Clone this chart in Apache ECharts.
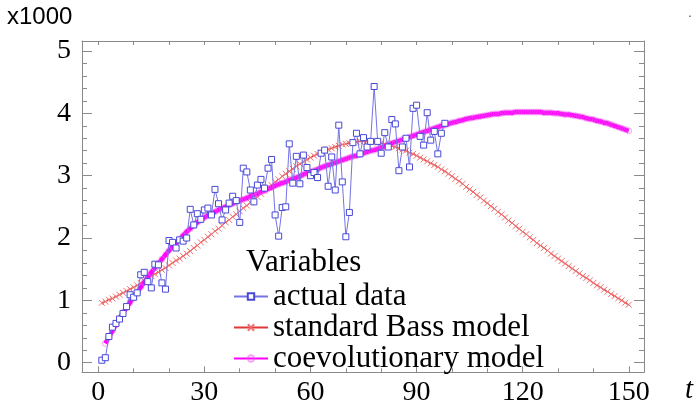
<!DOCTYPE html>
<html>
<head>
<meta charset="utf-8">
<script src="https://cdn.jsdelivr.net/npm/echarts@6/dist/echarts.min.js"></script>
<style>html,body{margin:0;padding:0;background:#fff}#c{width:700px;height:407px}</style>
</head>
<body>
<div id="c"></div>
<script>
// axis ticks / labels
var xMajor = [0, 30, 60, 90, 120, 150];
var xMinor = [0, 10, 20, 30, 40, 50, 60, 70, 80, 90, 100, 110, 120, 130, 140, 150];
var yMajor = [0, 1, 2, 3, 4, 5];
var yMinor = [0, 0.2, 0.4, 0.6, 0.8, 1, 1.2, 1.4, 1.6, 1.8, 2, 2.2, 2.4, 2.6, 2.8, 3,
              3.2, 3.4, 3.6, 3.8, 4, 4.2, 4.4, 4.6, 4.8, 5];
var xRange = [-4.6, 154.3];
var yRange = [-0.154, 5.16];

// actual data, t = 1..98 (x1000)
var actualStart = 1;
var actualData = [
0.04,0.08,0.42,0.57,0.63,0.70,0.79,0.90,1.09,1.05,
1.12,1.41,1.45,1.30,1.20,1.58,1.57,1.28,1.18,1.96,
1.93,1.84,1.97,1.95,2.00,2.46,2.21,2.39,2.30,2.45,
2.48,2.37,2.78,2.55,2.29,2.45,2.56,2.67,2.60,2.25,
3.12,3.06,2.77,2.58,2.85,2.94,2.80,3.12,3.26,2.37,
2.03,2.49,2.50,3.51,2.88,3.31,2.87,3.33,3.13,3.00,
3.05,2.97,3.36,3.41,2.83,3.30,2.77,3.81,2.90,2.02,
2.41,3.53,3.68,3.35,3.61,3.46,3.55,4.43,3.55,3.36,
3.69,3.46,3.90,3.83,3.08,3.46,3.60,3.14,4.08,4.13,
3.63,3.49,4.01,3.57,3.71,3.35,3.68,3.84
];

// standard Bass model, t = 1..150
var bassStart = 1;
var bassData = [
0.96,0.98,1.01,1.03,1.06,1.09,1.12,1.15,1.18,1.21,
1.24,1.28,1.31,1.35,1.39,1.42,1.45,1.49,1.52,1.56,
1.60,1.64,1.67,1.71,1.75,1.79,1.84,1.88,1.93,1.97,
2.02,2.06,2.11,2.15,2.20,2.25,2.29,2.34,2.38,2.43,
2.48,2.52,2.57,2.61,2.66,2.71,2.76,2.81,2.85,2.90,
2.94,2.99,3.03,3.07,3.11,3.15,3.19,3.22,3.26,3.29,
3.32,3.35,3.37,3.40,3.42,3.44,3.46,3.48,3.50,3.51,
3.52,3.53,3.54,3.55,3.55,3.55,3.54,3.54,3.53,3.52,
3.51,3.49,3.48,3.46,3.44,3.42,3.40,3.37,3.35,3.32,
3.29,3.26,3.23,3.20,3.17,3.14,3.10,3.07,3.03,2.99,
2.95,2.91,2.87,2.82,2.78,2.74,2.69,2.65,2.60,2.56,
2.51,2.47,2.42,2.38,2.33,2.28,2.24,2.19,2.15,2.10,
2.06,2.01,1.97,1.92,1.88,1.84,1.80,1.75,1.71,1.67,
1.63,1.59,1.55,1.51,1.47,1.43,1.39,1.36,1.32,1.28,
1.24,1.21,1.17,1.14,1.10,1.07,1.03,1.00,0.96,0.93
];

// coevolutionary model, t = 2..150
var coevoStart = 2;
var coevoData = [
0.31,0.41,0.51,0.61,0.71,0.80,0.88,0.97,1.05,
1.13,1.21,1.29,1.37,1.45,1.52,1.59,1.66,1.73,1.80,
1.86,1.92,1.98,2.04,2.10,2.15,2.20,2.25,2.29,2.33,
2.36,2.39,2.42,2.45,2.48,2.50,2.53,2.55,2.58,2.60,
2.62,2.64,2.67,2.69,2.71,2.74,2.76,2.79,2.81,2.84,
2.86,2.88,2.90,2.93,2.95,2.97,2.99,3.02,3.04,3.06,
3.08,3.10,3.13,3.15,3.17,3.19,3.21,3.23,3.25,3.27,
3.29,3.31,3.32,3.34,3.36,3.38,3.40,3.41,3.43,3.45,
3.47,3.49,3.52,3.54,3.56,3.58,3.60,3.62,3.64,3.66,
3.68,3.70,3.72,3.74,3.76,3.78,3.80,3.81,3.83,3.85,
3.86,3.88,3.89,3.91,3.92,3.93,3.94,3.95,3.96,3.97,
3.98,3.99,3.99,4.00,4.01,4.01,4.01,4.02,4.02,4.02,
4.02,4.02,4.02,4.02,4.02,4.01,4.01,4.01,4.00,4.00,
3.99,3.98,3.98,3.97,3.96,3.95,3.94,3.92,3.91,3.90,
3.88,3.87,3.85,3.84,3.82,3.80,3.78,3.76,3.74,3.72
];

var seriesNames = ['actual data', 'standard Bass model', 'coevolutionary model'];

function pairs(start, arr) { return arr.map(function (v, i) { return [start + i, v]; }); }

var SERIF = 'Liberation Serif';
var FRAME = '#8a8a8a';

var chart = echarts.init(document.getElementById('c'), null, {renderer: 'canvas'});

function axisDef(kind, pos, range, lineShow, ticks, tickLen, labels) {
  var a = {
    type: 'value', position: pos,
    min: range[0], max: range[1],
    axisLine: {show: lineShow, onZero: false, lineStyle: {color: FRAME, width: 1}},
    axisTick: {show: true, inside: true, length: tickLen, customValues: ticks,
               lineStyle: {color: FRAME, width: 1}},
    splitLine: {show: false},
    axisLabel: {show: !!labels, fontFamily: SERIF, fontSize: 28, color: '#000',
                margin: kind === 'x' ? 6 : 11}
  };
  if (labels) a.axisLabel.customValues = labels;
  return a;
}

var option = {
  backgroundColor: '#fff',
  animation: false,
  grid: {left: 82, right: 56, top: 41, bottom: 34.7, containLabel: false},
  xAxis: [
    axisDef('x', 'bottom', xRange, true, xMajor, 6, xMajor),
    axisDef('x', 'bottom', xRange, false, xMinor, 4, null),
    axisDef('x', 'top', xRange, true, xMinor, 4, null)
  ],
  yAxis: [
    axisDef('y', 'left', yRange, true, yMajor, 10, yMajor),
    axisDef('y', 'left', yRange, false, yMinor, 5, null),
    axisDef('y', 'right', yRange, true, yMajor, 10, null),
    axisDef('y', 'right', yRange, false, yMinor, 5, null)
  ],
  legend: {
    orient: 'vertical', left: 228, top: 276,
    itemWidth: 34, itemHeight: 8, itemGap: 0,
    data: seriesNames,
    textStyle: {fontFamily: SERIF, fontSize: 31, color: '#000', lineHeight: 30}
  },
  graphic: [
    {type: 'text', left: 7, top: 5, style: {text: 'x1000', font: '24px "Liberation Sans"', fill: '#000'}},
    {type: 'text', left: 685, top: 376, style: {text: 't', font: 'italic 29px "Liberation Serif"', fill: '#000'}},
    {type: 'text', left: 246, top: 247, style: {text: 'Variables', font: '31px "Liberation Serif"', fill: '#000'}},
    {type: 'text', left: 688, top: 6, style: {text: '.', font: '14px "Liberation Sans"', fill: '#555'}}
  ],
  series: [
    {
      name: seriesNames[1], type: 'line', z: 2,
      data: pairs(bassStart, bassData),
      symbol: 'path://M0,0L10,10M10,0L0,10', symbolSize: 6,
      itemStyle: {color: '#ee5a5a', borderColor: '#f07070', borderWidth: 1},
      lineStyle: {color: '#e03838', width: 1}
    },
    {
      name: seriesNames[2], type: 'line', z: 3,
      data: pairs(coevoStart, coevoData),
      symbol: 'circle', symbolSize: 6,
      itemStyle: {color: 'rgba(255,0,255,0)', borderColor: 'rgba(238,90,238,0.55)', borderWidth: 1},
      lineStyle: {color: '#ff00ff', width: 4.5}
    },
    {
      name: seriesNames[0], type: 'line', z: 4,
      data: pairs(actualStart, actualData),
      symbol: 'rect', symbolSize: 6,
      itemStyle: {color: '#ffffff', borderColor: '#4848d8', borderWidth: 1},
      lineStyle: {color: '#7474e4', width: 1}
    }
  ]
};
chart.setOption(option);
</script>
</body>
</html>
